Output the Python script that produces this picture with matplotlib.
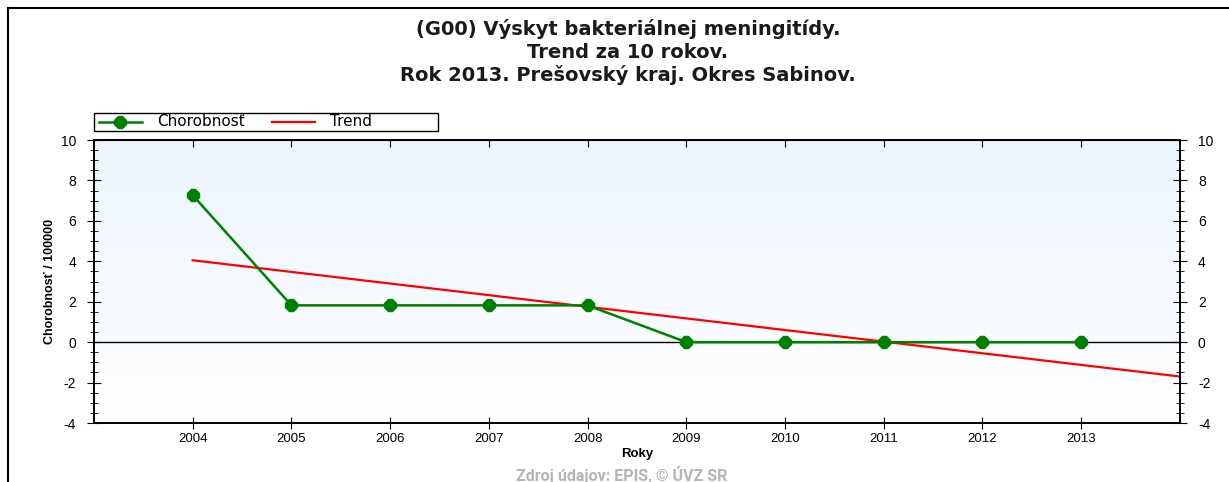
import numpy as np
import matplotlib.pyplot as plt
from matplotlib.lines import Line2D
from matplotlib.patches import Rectangle

# data
years = [2004, 2005, 2006, 2007, 2008, 2009, 2010, 2011, 2012, 2013]
chorobnost = [7.27, 1.82, 1.82, 1.82, 1.82, 0.0, 0.0, 0.0, 0.0, 0.0]
trend_x = [2004, 2014]
trend_y = [4.05, -1.70]
y_ticks = [-4, -2, 0, 2, 4, 6, 8, 10]

title = ('(G00) Výskyt bakteriálnej meningitídy.\n'
         'Trend za 10 rokov.\n'
         'Rok 2013. Prešovský kraj. Okres Sabinov.')

plt.rcParams['font.family'] = ['Liberation Sans', 'DejaVu Sans']
plt.rcParams['axes.unicode_minus'] = False

GREEN = '#008000'
RED = '#ff0000'

fig = plt.figure(figsize=(12.29, 4.82), dpi=100)
ax = fig.add_axes([0.0765, 0.1224, 0.8835, 0.5871])

# light blue to white background gradient
grad = np.linspace(1, 0, 256).reshape(-1, 1)
top = np.array([0.925, 0.957, 0.992])
bottom = np.array([1.0, 1.0, 1.0])
img = bottom + (top - bottom) * grad[..., None]
ax.imshow(img, extent=[0, 1, 0, 1], transform=ax.transAxes, aspect='auto', zorder=0)

ax.axhline(0, color='black', lw=1, zorder=1)
ax.plot(trend_x, trend_y, color=RED, lw=1.6, zorder=2)
ax.plot(years, chorobnost, color=GREEN, lw=1.8, marker='8', markersize=9, zorder=3)

ax.set_xlim(2003, 2014)
ax.set_ylim(-4, 10)
ax.set_xticks(years)
ax.set_yticks(y_ticks)
ax.set_yticks(np.arange(-4, 10.01, 0.5), minor=True)
ax.tick_params(axis='x', which='major', direction='inout', length=8, labelsize=9.5)
ax.tick_params(axis='y', which='major', direction='inout', length=10, labelsize=10, pad=8)
ax.tick_params(axis='y', which='minor', direction='inout', length=6)
for s in ax.spines.values():
    s.set_linewidth(1.2)
ax.set_xlabel('Roky', fontsize=9.5, fontweight='bold', labelpad=2)
ax.set_ylabel('Chorobnosť / 100000', fontsize=9, fontweight='bold', labelpad=3)

secx = ax.secondary_xaxis('top')
secx.set_xticks(years)
secx.tick_params(direction='in', length=5, labeltop=False)

ax2 = ax.twinx()
ax2.set_ylim(-4, 10)
ax2.set_yticks(y_ticks)
ax2.set_yticks(np.arange(-4, 10.01, 0.5), minor=True)
ax2.tick_params(axis='y', which='major', direction='inout', length=10, labelsize=10, pad=8)
ax2.tick_params(axis='y', which='minor', direction='inout', length=6)
for s in ax2.spines.values():
    s.set_linewidth(1.2)

# legend box above the plot, laid out like the original
fig.add_artist(Rectangle((0.0765, 0.7282), 0.2799, 0.0374, transform=fig.transFigure,
                         facecolor='white', edgecolor='black', lw=1))
ly = 0.7469
fig.add_artist(Line2D([0.0806, 0.1155], [ly, ly], color=GREEN, lw=1.8))
fig.add_artist(Line2D([0.098], [ly], color=GREEN, marker='8', markersize=9))
fig.text(0.1277, ly, 'Chorobnosť', ha='left', va='center', fontsize=11,
         family=['DejaVu Sans'])
fig.add_artist(Line2D([0.2213, 0.2563], [ly, ly], color=RED, lw=1.6))
fig.text(0.2685, ly, 'Trend', ha='left', va='center', fontsize=11,
         family=['DejaVu Sans'])

fig.text(0.511, 0.96, title, ha='center', va='top', fontsize=14, fontweight='bold',
         linespacing=1.22, family=['DejaVu Sans'], color='#1a1a1a')
fig.text(0.506, -0.004, 'Zdroj údajov: EPIS, © ÚVZ SR', ha='center', va='bottom',
         fontsize=11.5, fontweight='bold', color='#b4b4b4', family=['Roboto', 'DejaVu Sans'])

# outer frame lines (top and left only)
fig.add_artist(Line2D([0.0065, 1], [0.983, 0.983], color='black', lw=1.5))
fig.add_artist(Line2D([0.0065, 0.0065], [0, 0.983], color='black', lw=1.5))

fig.savefig('out.png', dpi=100)
